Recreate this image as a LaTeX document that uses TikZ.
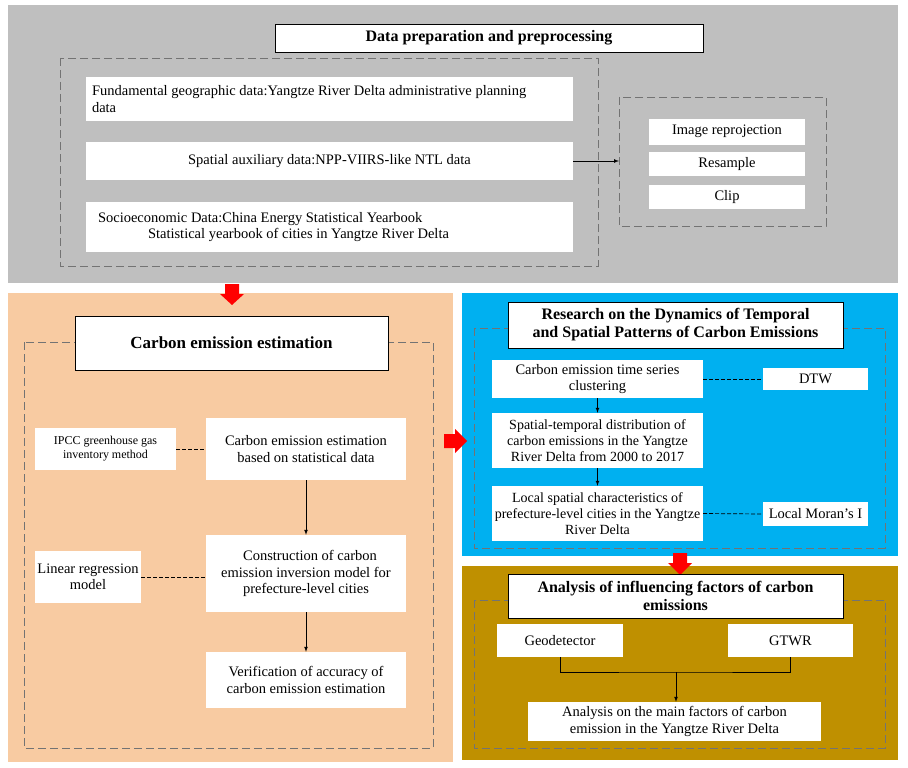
\documentclass[tikz,border=0pt]{standalone}
\usepackage{fontspec}
\setmainfont{Liberation Serif}
\definecolor{pgray}{HTML}{BFBFBF}
\definecolor{porange}{HTML}{F8CBA2}
\definecolor{pblue}{HTML}{00B0F0}
\definecolor{pgold}{HTML}{BF9000}
\begin{document}
\begin{tikzpicture}[x=1pt,y=-1pt,
  every node/.style={font=\fontsize{14.5}{16.5}\selectfont},
  wb/.style={fill=white,draw=none,align=center},
  tb/.style={fill=white,draw=black,line width=0.8pt,align=center,font=\fontsize{16}{18}\selectfont\bfseries},
  dbox/.style={draw=black!55,dash pattern=on 8pt off 4pt,line width=0.8pt},
  arr/.style={-latex,line width=0.7pt},
  dl/.style={dash pattern=on 4pt off 2pt,line width=0.7pt},
  redd/.style={fill=red,draw=none}]
\useasboundingbox (0,0) rectangle (908,768);
% panels
\fill[pgray] (8,5) rectangle (898,283);
\fill[porange] (8,293) rectangle (453,762);
\fill[pblue] (462,293) rectangle (898,556);
\fill[pgold] (462,566) rectangle (898,760);
% top
\draw[dbox] (60,58) rectangle (598,266);
\draw[dbox] (619,97) rectangle (826,226);
\node[tb,minimum width=428pt,minimum height=28pt] (t1) at (489,38) {Data preparation and preprocessing};
\node[wb,text width=475pt,inner xsep=6pt,minimum height=44pt,align=flush left] (g1) at (329.5,99) {Fundamental geographic data:Yangtze River Delta administrative planning\\data};
\node[wb,minimum width=487pt,minimum height=38pt] (g2) at (329.5,161) {Spatial auxiliary data:NPP-VIIRS-like NTL data};
\node[wb,text width=475pt,inner xsep=6pt,minimum height=50pt,align=flush left] (g3) at (329.5,227) {\hspace*{6pt}Socioeconomic Data:China Energy Statistical Yearbook\\\hspace*{56pt}Statistical yearbook of cities in Yangtze River Delta};
\node[wb,minimum width=156pt,minimum height=26pt] (p1) at (727,131.5) {Image reprojection};
\node[wb,minimum width=156pt,minimum height=24pt] (p2) at (727,164) {Resample};
\node[wb,minimum width=156pt,minimum height=24pt] (p3) at (727,197) {Clip};
\coordinate (pr) at (619,161);
\draw[arr] (g2.east) -- (pr);
% red block arrows
\fill[redd] (225,284) -- (239,284) -- (239,294) -- (244,294) -- (232,305) -- (220,294) -- (225,294) -- cycle;
\fill[redd] (444,434) -- (455,434) -- (455,429) -- (467,441) -- (455,453) -- (455,448) -- (444,448) -- cycle;
\fill[redd] (673,553) -- (687,553) -- (687,563) -- (692,563) -- (680,575) -- (668,563) -- (673,563) -- cycle;
% orange
\draw[dbox] (24,342) rectangle (433,748);
\node[tb,minimum width=313pt,minimum height=54pt,font=\fontsize{17}{19}\selectfont\bfseries] (t2) at (231.5,343) {Carbon emission estimation};
\node[wb,minimum width=141pt,minimum height=42pt,font=\fontsize{12}{14}\selectfont] (o1) at (105.5,449) {IPCC greenhouse gas\\inventory method};
\node[wb,minimum width=200pt,minimum height=62pt] (o2) at (306,449) {Carbon emission estimation\\based on statistical data};
\node[wb,minimum width=106pt,minimum height=52pt,inner xsep=1pt] (o3) at (88,577) {Linear regression\\model};
\node[wb,minimum width=200pt,minimum height=77pt] (o4) at (306,573.5) {\hspace*{8pt}Construction of carbon\\emission inversion model for\\prefecture-level cities};
\node[wb,minimum width=200pt,minimum height=56pt] (o5) at (306,680) {Verification of accuracy of\\carbon emission estimation};
\draw[dl] (o1.east) -- (o2.west);
\draw[dl] (o3.east) -- (o3.east -| o4.west);
\draw[arr] (o2) -- (o4);
\draw[arr] (o4) -- (o5);
% blue
\draw[dbox] (474,328) rectangle (885,548);
\node[tb,minimum width=335pt,minimum height=46pt] (t3) at (675.5,325) {Research on the Dynamics of Temporal\\and Spatial Patterns of Carbon Emissions};
\node[wb,minimum width=211pt,minimum height=38pt] (b1) at (597.5,379) {Carbon emission time series\\clustering};
\node[wb,minimum width=105pt,minimum height=22pt] (b2) at (815.5,379) {DTW};
\node[wb,minimum width=211pt,minimum height=55pt,inner xsep=0pt,font=\fontsize{14}{16}\selectfont] (b3) at (597.5,440.5) {Spatial-temporal distribution of\\carbon emissions in the Yangtze\\River Delta from 2000 to 2017};
\node[wb,minimum width=211pt,minimum height=55pt,inner xsep=0pt,font=\fontsize{14}{16}\selectfont] (b4) at (597.5,513.5) {Local spatial characteristics of\\prefecture-level cities in the Yangtze\\River Delta};
\node[wb,minimum width=105pt,minimum height=24pt,inner sep=1pt] (b5) at (815.5,514) {Local Moran's I};
\draw[dl] (b1.east) -- (b2.west);
\draw[dl] (b4.east) -- (b5.west);
\draw[arr] (b1) -- (b3);
\draw[arr] (b3) -- (b4);
% gold
\draw[dbox] (474,600) rectangle (885,748);
\node[tb,minimum width=335pt,minimum height=44pt] (t4) at (675.5,596) {Analysis of influencing factors of carbon\\emissions};
\node[wb,minimum width=126pt,minimum height=33pt] (y1) at (560,640.5) {Geodetector};
\node[wb,minimum width=125pt,minimum height=33pt] (y2) at (790.5,640.5) {GTWR};
\node[wb,minimum width=293pt,minimum height=39pt] (y3) at (674.5,721.5) {Analysis on the main factors of carbon\\emission in the Yangtze River Delta};
\coordinate (j) at (676,672);
\draw[line width=0.7pt] (y1.south) |- (j) -| (y2.south);
\draw[arr] (j) -- (y3.north -| j);
\end{tikzpicture}
\end{document}
